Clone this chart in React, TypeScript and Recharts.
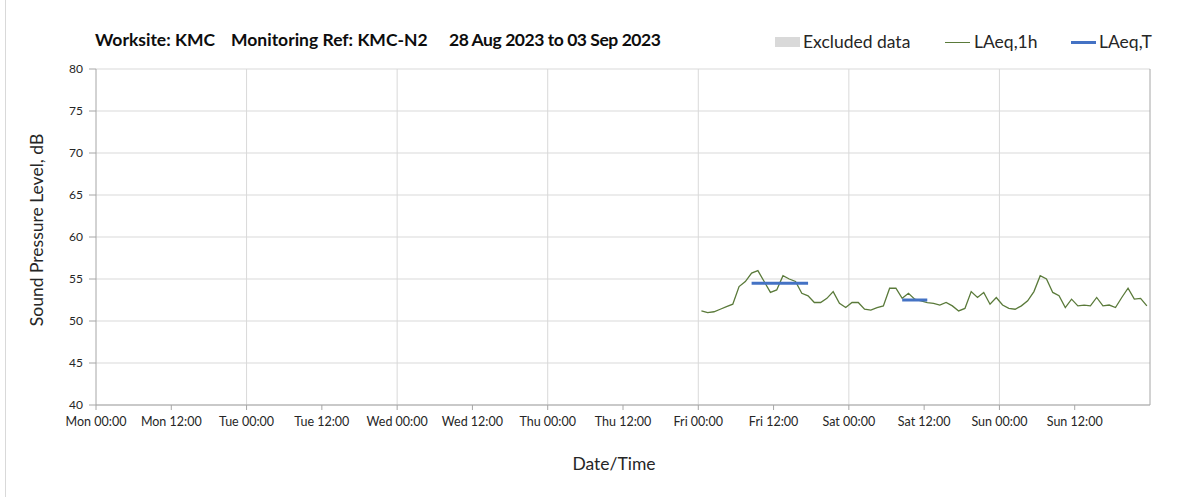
import React from 'react';
import { LineChart, Line, XAxis, YAxis, CartesianGrid, ReferenceLine } from 'recharts';

const FONT = 'Lato, "Open Sans", sans-serif';

// X axis: hours from Mon 00:00
const xTickValues = [0, 12, 24, 36, 48, 60, 72, 84, 96, 108, 120, 132, 144, 156];
const xTickLabels = [
  'Mon 00:00', 'Mon 12:00', 'Tue 00:00', 'Tue 12:00', 'Wed 00:00', 'Wed 12:00',
  'Thu 00:00', 'Thu 12:00', 'Fri 00:00', 'Fri 12:00', 'Sat 00:00', 'Sat 12:00',
  'Sun 00:00', 'Sun 12:00',
];
const dayBoundaries = [24, 48, 72, 96, 120, 144, 168];
const yTicks = [40, 45, 50, 55, 60, 65, 70, 75, 80];

const titleParts = ['Worksite: KMC', 'Monitoring Ref: KMC-N2', '28 Aug 2023 to 03 Sep 2023'];
const legendLabels = ['Excluded data', 'LAeq,1h', 'LAeq,T'];

// LAeq,1h: hourly values starting Fri 00:30 (hour 96.5)
const FIRST_HOUR = 96.5;
const laeq1hValues = [
  51.2, 51.0, 51.1, 51.4, 51.7, 52.0, 54.1, 54.7, 55.7, 56.0, 54.7, 53.4,
  53.7, 55.4, 55.0, 54.7, 53.3, 53.0, 52.2, 52.2, 52.7, 53.5, 52.1, 51.6,
  52.2, 52.2, 51.4, 51.3, 51.6, 51.8, 53.9, 53.9, 52.7, 53.3, 52.6, 52.4,
  52.2, 52.1, 51.9, 52.2, 51.8, 51.2, 51.5, 53.5, 52.8, 53.4, 52.0, 52.8,
  51.9, 51.5, 51.4, 51.8, 52.4, 53.5, 55.4, 55.0, 53.4, 53.0, 51.6, 52.6,
  51.8, 51.9, 51.8, 52.8, 51.8, 51.9, 51.6, 52.8, 53.9, 52.6, 52.7, 51.8,
];

// LAeq,T periods: [start hour, end hour, level]
const laeqTStarts = [104.5, 128.5];
const laeqTEnds = [113.5, 132.5];
const laeqTValues = [54.5, 52.5];

const hourlyData = laeq1hValues.map((v, i) => ({ t: FIRST_HOUR + i, v }));
const periodData = laeqTValues.map((v, i) => [
  { t: laeqTStarts[i], p: v },
  { t: laeqTEnds[i], p: v },
]);

const GRID = '#d9d9d9';
const AXIS = '#a6a6a6';
const GREEN = '#5a7a3a';
const BLUE = '#4472c4';
const TEXT = '#262626';
const TITLE_SIZE = 17.5;

export default function App() {
  return (
    <div style={{ position: 'absolute', left: 0, top: 0, width: 1203, height: 497, background: '#fff', overflow: 'hidden' }}>
      <div style={{ position: 'absolute', left: 5, top: 0, width: 1, height: 497, background: '#d9d9d9' }} />
      {/* title */}
      {[95, 231, 449].map((left, i) => (
        <div
          key={i}
          style={{
            position: 'absolute', left, top: 29, fontFamily: FONT, fontWeight: 700, fontSize: TITLE_SIZE,
            whiteSpace: 'nowrap', color: '#0d0d0d', lineHeight: '22px',
            letterSpacing: i === 2 ? -0.45 : 0,
          }}
        >
          {titleParts[i]}
        </div>
      ))}
      {/* legend */}
      <div style={{ position: 'absolute', left: 775, top: 37, width: 25, height: 10, background: '#d9d9d9' }} />
      <div style={{ position: 'absolute', left: 803, top: 31, lineHeight: '22px', fontFamily: FONT, fontSize: TITLE_SIZE, color: TEXT, whiteSpace: 'nowrap' }}>{legendLabels[0]}</div>
      <div style={{ position: 'absolute', left: 945, top: 42, width: 25, height: 1, background: GREEN }} />
      <div style={{ position: 'absolute', left: 974, top: 31, lineHeight: '22px', fontFamily: FONT, fontSize: TITLE_SIZE, color: TEXT, whiteSpace: 'nowrap' }}>{legendLabels[1]}</div>
      <div style={{ position: 'absolute', left: 1071, top: 41, width: 25, height: 3, background: BLUE }} />
      <div style={{ position: 'absolute', left: 1099, top: 31, lineHeight: '22px', fontFamily: FONT, fontSize: TITLE_SIZE, color: TEXT, whiteSpace: 'nowrap' }}>{legendLabels[2]}</div>
      {/* axis titles */}
      <div
        style={{
          position: 'absolute', left: 36, top: 230, transform: 'translate(-50%, -50%) rotate(-90deg)',
          fontFamily: FONT, fontSize: TITLE_SIZE, whiteSpace: 'nowrap', color: TEXT,
        }}
      >
        Sound Pressure Level, dB
      </div>
      <div
        style={{
          position: 'absolute', left: 614, top: 463, transform: 'translate(-50%, -50%)',
          fontFamily: FONT, fontSize: TITLE_SIZE, whiteSpace: 'nowrap', color: TEXT,
        }}
      >
        Date/Time
      </div>
      <div style={{ position: 'absolute', left: 0, top: 0 }}>
        <LineChart width={1203} height={497} data={hourlyData} margin={{ top: 69, right: 53, bottom: 62, left: 0 }}>
          <CartesianGrid vertical={false} stroke={GRID} />
          {dayBoundaries.map((d) => (
            <ReferenceLine key={d} x={d} stroke={d === 168 ? AXIS : GRID} strokeWidth={1} />
          ))}
          <XAxis
            type="number"
            dataKey="t"
            domain={[0, 168]}
            ticks={xTickValues}
            interval={0}
            tickFormatter={(v: number) => xTickLabels[xTickValues.indexOf(v)] ?? ''}
            tickSize={5}
            tickMargin={7}
            height={30}
            stroke={AXIS}
            tick={{ fontFamily: FONT, fontSize: 12.5, fill: TEXT }}
            allowDataOverflow
          />
          <YAxis
            type="number"
            domain={[40, 80]}
            ticks={yTicks}
            interval={0}
            width={96}
            tickSize={7}
            tickMargin={6}
            stroke={AXIS}
            tick={{ fontFamily: FONT, fontSize: 12, fill: TEXT }}
            allowDataOverflow
          />
          <Line
            type="linear"
            dataKey="v"
            stroke={GREEN}
            strokeWidth={1.3}
            dot={false}
            isAnimationActive={false}
            legendType="none"
          />
          {periodData.map((seg, i) => (
            <Line
              key={i}
              data={seg}
              type="linear"
              dataKey="p"
              stroke={BLUE}
              strokeWidth={3}
              dot={false}
              isAnimationActive={false}
              legendType="none"
            />
          ))}
        </LineChart>
      </div>
    </div>
  );
}
